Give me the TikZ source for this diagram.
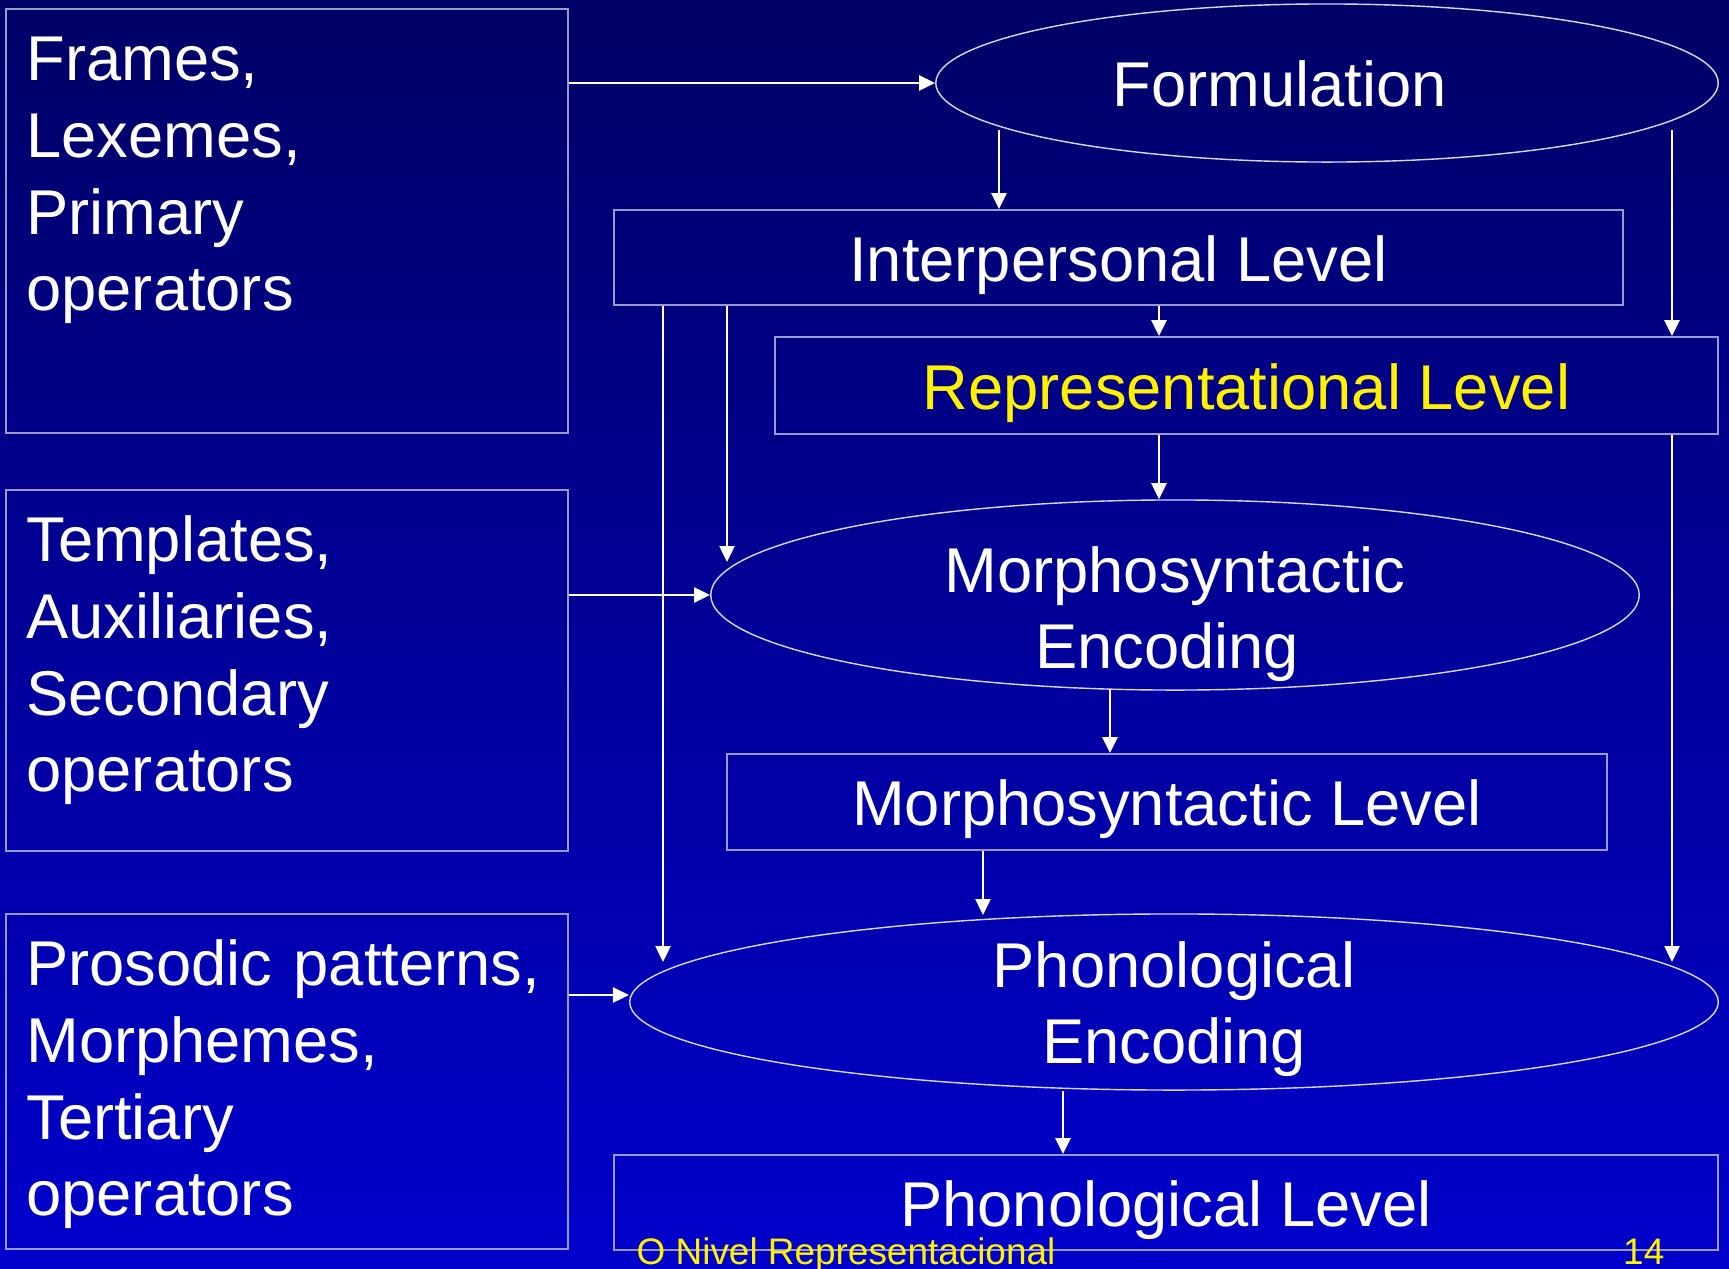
\documentclass[tikz,border=0pt]{standalone}
\usepackage{fontspec}
\setmainfont{Liberation Sans}
\usetikzlibrary{shapes.geometric, arrows.meta, calc}

\definecolor{bgtop}{RGB}{0,0,102}
\definecolor{bgbot}{RGB}{0,0,204}
\definecolor{rim}{RGB}{153,153,204}
\definecolor{ovalrim}{RGB}{215,215,255}

\begin{document}
\begin{tikzpicture}[x=0.01cm, y=-0.01cm,
    src/.style={rectangle, draw=rim, line width=0.5pt, text=white,
                minimum width=5.61cm, text width=5.21cm, inner xsep=0.2cm,
                inner ysep=0.25cm, text height=0.47cm, align=left,
                font=\fontsize{18}{21.8}\selectfont},
    lvl/.style={rectangle, draw=rim, line width=0.5pt, text=white,
                inner sep=0pt, text height=0.47cm, text depth=0pt,
                font=\fontsize{18}{21.8}\selectfont},
    enc/.style={ellipse, draw=ovalrim, line width=0.4pt, text=white,
                inner sep=-0.3cm, text width=6cm, align=center,
                text height=0.47cm, text depth=0pt,
                font=\fontsize{18}{21.8}\selectfont},
    arrow/.style={-{Triangle[length=1.6mm, width=1.5mm]}, draw=white, line width=0.7pt},
    foot/.style={text=yellow, inner sep=0pt, font=\fontsize{10.5}{12}\selectfont},
  ]

  % Page in pixel units (1 unit = 0.1 mm), y grows downwards
  \useasboundingbox (0,0) rectangle (1729,1269);
  \shade[top color=bgtop, bottom color=bgbot] (0,0) rectangle (1729,1269);

  % x-position of the central connectors
  \def\xRep{1159}    % Interpersonal -> Representational -> Morphosyntactic

  % ── Inputs on the left ───────────────────────────────────────────────
  \node[src, text depth=3.27cm] (src1) at (287,221)
    {Frames,\\Lexemes,\\Primary\\operators};
  \node[src, text depth=2.64cm] (src2) at (287,670.5)
    {Templates,\\Auxiliaries,\\Secondary\\operators};
  \node[src, text depth=2.38cm] (src3) at (287,1081.5)
    {Prosodic patterns,\\Morphemes,\\Tertiary\\operators};

  % ── Levels and encodings ─────────────────────────────────────────────
  \node[enc, minimum width=7.82cm, minimum height=1.58cm] (form) at (1327,83)
    {Formulation\hspace*{0.94cm}};
  \node[lvl, minimum width=10.09cm, minimum height=0.95cm] (inter) at (1118.5,257.5) {Interpersonal Level};
  \node[lvl, text=yellow, minimum width=9.43cm, minimum height=0.97cm] (rep) at (1246.5,385.5) {Representational Level};
  \node[enc, text depth=0.53cm, minimum width=9.28cm, minimum height=1.90cm] (menc) at (1175,595)
    {Morphosyntactic\hspace*{0.16cm}\\Encoding\hspace*{0.16cm}};
  \node[lvl, minimum width=8.80cm, minimum height=0.96cm] (mlvl) at (1167,802) {Morphosyntactic Level};
  \node[enc, text depth=0.77cm, minimum width=10.88cm, minimum height=1.76cm] (penc) at (1174,1002)
    {Phonological\\Encoding};
  \node[lvl, minimum width=11.04cm, minimum height=0.95cm] (plvl) at (1166,1202.5) {Phonological Level};

  % Points on the ellipse rims where the vertical connectors meet them
  \coordinate (fI) at ($(form.center)+(-328,47)$);
  \coordinate (fR) at ($(form.center)+(345,47)$);
  \coordinate (mI) at ($(menc.center)+(-448,-33)$);
  \coordinate (mM) at ($(menc.center)+(-65,95)$);
  \coordinate (pI) at ($(penc.center)+(-511,-40)$);
  \coordinate (pR) at ($(penc.center)+(498,-40)$);
  \coordinate (pM) at ($(penc.center)+(-191,-87)$);
  \coordinate (pP) at ($(penc.center)+(-111,89)$);
  \coordinate (pS) at ($(penc.west)+(0,-7)$);

  % ── Connectors ───────────────────────────────────────────────────────
  \draw[arrow] (src1.east |- form.west) -- (form.west);
  \draw[arrow] (src2.east |- menc.west) -- (menc.west);
  \draw[arrow] (src3.east |- pS) -- (pS);

  \draw[arrow] (fI) -- (fI |- inter.north);
  \draw[arrow] (fR) -- (fR |- rep.north);
  \draw[arrow] (inter.south -| \xRep,0) -- (rep.north -| \xRep,0);
  \draw[arrow] (rep.south -| \xRep,0) -- (menc.north -| \xRep,0);
  \draw[arrow] (inter.south -| mI) -- (mI);
  \draw[arrow] (inter.south -| pI) -- (pI);
  \draw[arrow] (rep.south -| pR) -- (pR);
  \draw[arrow] (mM) -- (mM |- mlvl.north);
  \draw[arrow] (mlvl.south -| pM) -- (pM);
  \draw[arrow] (pP) -- (pP |- plvl.north);

  % ── Footer ───────────────────────────────────────────────────────────
  \node[foot, anchor=base west] (title) at (636,1264) {O Nivel Representacional};
  \node[foot, anchor=base east] (page) at (1665,1264) {14};

\end{tikzpicture}
\end{document}
